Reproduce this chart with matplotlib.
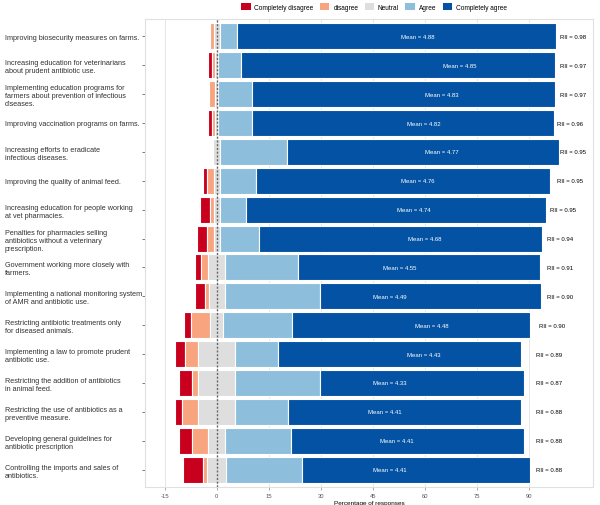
import matplotlib
matplotlib.use("Agg")
import matplotlib.pyplot as plt
from matplotlib.patches import Patch
import numpy as np

plt.rcParams['font.family'] = ['Liberation Sans', 'DejaVu Sans']

# statements, top to bottom
statements = [
    "Improving biosecurity measures on farms.",
    "Increasing education for veterinarians\nabout prudent antibiotic use.",
    "Implementing education programs for\nfarmers about prevention of infectious\ndiseases.",
    "Improving vaccination programs on farms.",
    "Increasing efforts to eradicate\ninfectious diseases.",
    "Improving the quality of animal feed.",
    "Increasing education for people working\nat vet pharmacies.",
    "Penalties for pharmacies selling\nantibiotics without a veterinary\nprescription.",
    "Government working more closely with\nfarmers.",
    "Implementing a national monitoring system\nof AMR and antibiotic use.",
    "Restricting antibiotic treatments only\nfor diseased animals.",
    "Implementing a law to promote prudent\nantibiotic use.",
    "Restricting the addition of antibiotics\nin animal feed.",
    "Restricting the use of antibiotics as a\npreventive measure.",
    "Developing general guidelines for\nantibiotic prescription",
    "Controlling the imports and sales of\nantibiotics.",
]

# percentages of responses
comp_disagree = [0, 1.05, 0, 1.05, 0, 1.05, 3.0, 2.9, 1.7, 2.7, 1.8, 2.8, 3.7, 1.8, 3.8, 5.7]
disagree = [1.1, 0.85, 1.8, 1.0, 0, 2.0, 1.1, 2.0, 2.1, 1.2, 5.7, 3.8, 1.9, 4.8, 4.8, 1.15]
neutral = [1.7, 1.0, 0.8, 0.8, 1.9, 1.7, 1.7, 1.7, 4.8, 4.6, 3.7, 10.6, 10.6, 10.6, 4.8, 5.6]
agree = [4.9, 6.5, 9.7, 9.7, 19.2, 10.6, 7.6, 11.3, 21.2, 27.6, 20.0, 12.5, 24.6, 15.4, 19.1, 21.8]
comp_agree = [92.1, 90.5, 87.4, 87.3, 78.5, 84.6, 86.6, 81.8, 69.7, 63.6, 68.5, 70.0, 58.9, 67.1, 67.1, 65.7]

means = [4.88, 4.85, 4.83, 4.82, 4.77, 4.76, 4.74, 4.68, 4.55, 4.49, 4.48, 4.43, 4.33, 4.41, 4.41, 4.41]
rii = [0.98, 0.97, 0.97, 0.96, 0.95, 0.95, 0.95, 0.94, 0.91, 0.90, 0.90, 0.89, 0.87, 0.88, 0.88, 0.88]

# where the annotations sit (x in percent)
mean_x = [58.0, 70.0, 64.9, 59.9, 64.9, 58.0, 56.8, 59.9, 52.9, 50.0, 62.0, 59.9, 50.0, 48.5, 51.9, 50.0]
rii_x = [99.0, 99.0, 99.0, 98.2, 99.0, 98.2, 96.1, 95.2, 95.2, 95.2, 93.0, 92.1, 92.1, 92.1, 92.1, 92.1]

levels = ["Completely disagree", "disagree", "Neutral", "Agree", "Completely agree"]
colors = ["#C8001E", "#F8A57F", "#DEDEDE", "#8DBFDD", "#0352A3"]

cd = np.array(comp_disagree)
d = np.array(disagree)
n = np.array(neutral)
a = np.array(agree)
ca = np.array(comp_agree)
y = np.arange(len(statements))[::-1] + 1

fig = plt.figure(figsize=(6, 5.06), dpi=100)
ax = fig.add_axes([145 / 600, 1 - 488 / 506, 448 / 600, 468 / 506])

h = 0.9
kw = dict(height=h, edgecolor="white", linewidth=0.8, zorder=2)
ax.barh(y, cd, left=-(cd + d + n / 2), color=colors[0], **kw)
ax.barh(y, d, left=-(d + n / 2), color=colors[1], **kw)
ax.barh(y, n, left=-n / 2, color=colors[2], **kw)
ax.barh(y, a, left=n / 2, color=colors[3], **kw)
ax.barh(y, ca, left=n / 2 + a, color=colors[4], **kw)

ax.axvline(0, color="#666666", linestyle=(0, (1.5, 1.2)), linewidth=1.0, zorder=3)

for yi, m, mx, r, rx in zip(y, means, mean_x, rii, rii_x):
    ax.text(mx, yi, "Mean = %.2f" % m, color="white", fontsize=4.3,
            ha="center", va="center", zorder=4)
    ax.text(rx, yi, "RII = %.2f" % r, color="black", fontsize=4.3,
            ha="left", va="center", zorder=4)

ax.set_xlim(-20.7, 108.6)
ax.set_ylim(0.4, len(statements) + 0.6)
ax.set_xticks([-15, 0, 15, 30, 45, 60, 75, 90])
ax.set_xticklabels(["-15", "0", "15", "30", "45", "60", "75", "90"])
ax.set_yticks(y)
ax.set_yticklabels(statements, ha="left", fontsize=5.2, color="#333333")
ax.tick_params(axis="y", length=2, width=0.5, color="#444444", pad=99)
ax.tick_params(axis="x", length=2, width=0.5, color="#888888",
               labelsize=4.2, labelcolor="#555555", pad=2)
ax.grid(axis="x", color="#E6E6E6", linewidth=0.7, zorder=0)
ax.set_axisbelow(True)
for sp in ax.spines.values():
    sp.set_color("#E0E0E0")
    sp.set_linewidth(0.8)
ax.set_xlabel("Percentage of responses", fontsize=4.6, labelpad=2)

handles = [Patch(facecolor=c, edgecolor="none") for c in colors]
fig.legend(handles, levels, loc="upper center", ncol=5, frameon=False,
           bbox_to_anchor=(374 / 600, 1.0), fontsize=4.7,
           handlelength=1.4, handleheight=1.4, handletextpad=0.6,
           columnspacing=1.0, borderaxespad=0.2)

fig.savefig("out.png", dpi=100)
